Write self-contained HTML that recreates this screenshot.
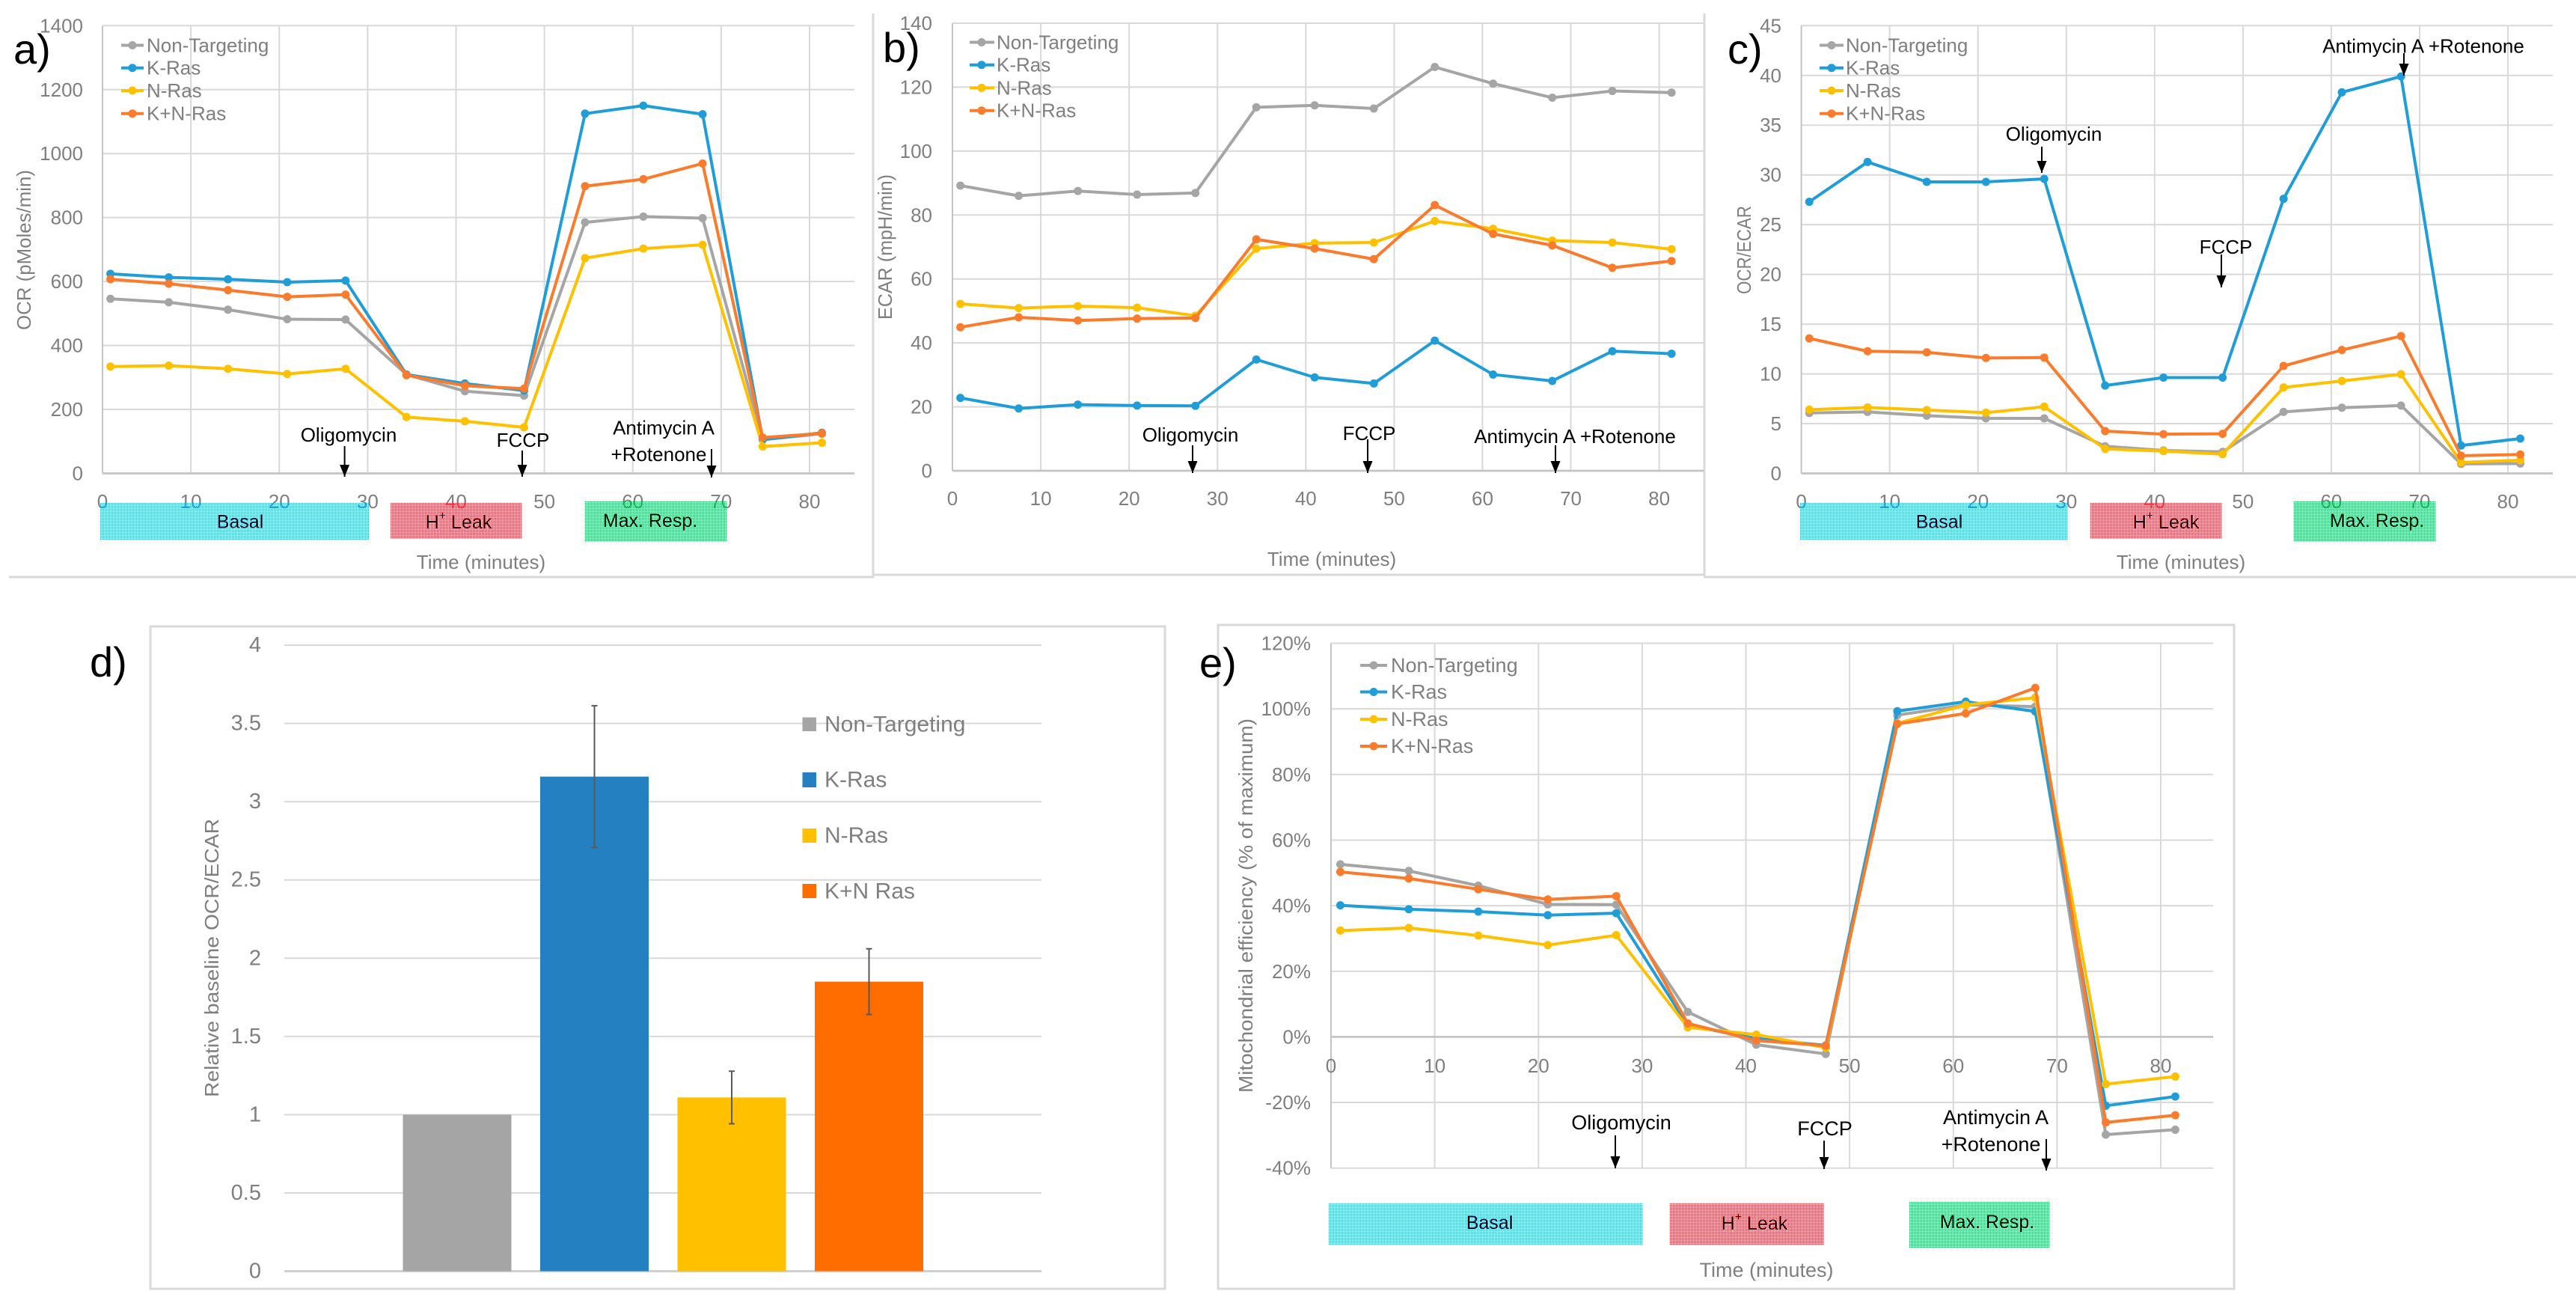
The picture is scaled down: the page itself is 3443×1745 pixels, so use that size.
<!DOCTYPE html>
<html lang="en">
<head>
<meta charset="utf-8">
<title>Mitochondrial respiration charts</title>
<style>
html,body{margin:0;padding:0;background:#fff;}
svg{display:block;}
text{font-family:"Liberation Sans",sans-serif;}
.tick{fill:#7f7f7f;font-size:26px;}
.leg{fill:#7f7f7f;font-size:26px;dominant-baseline:central;}
.title{fill:#7f7f7f;font-size:26px;text-anchor:middle;dominant-baseline:central;}
.note{fill:#000;font-size:26px;text-anchor:middle;dominant-baseline:central;}
.box-label{fill:#000;font-size:25px;text-anchor:middle;dominant-baseline:central;}
.panel{fill:#000;font-size:56px;}
.frame{stroke:#d9d9d9;stroke-width:3;fill:none;}
.arrow{stroke:#000;stroke-width:2;fill:none;}
</style>
</head>
<body>
<svg id="figure" xmlns="http://www.w3.org/2000/svg" width="3443" height="1745" viewBox="0 0 3443 1745">
<defs>
<pattern id="dots-blue" width="2" height="2" patternUnits="userSpaceOnUse"><rect width="1.2" height="1.2" fill="#1fa0dc"/></pattern>
<pattern id="dots-red" width="2" height="2" patternUnits="userSpaceOnUse"><rect width="1.2" height="1.2" fill="#e8202c"/></pattern>
<pattern id="dots-green" width="2" height="2" patternUnits="userSpaceOnUse"><rect width="1.2" height="1.2" fill="#08a84c"/></pattern>
<marker id="arrowhead" markerUnits="userSpaceOnUse" markerWidth="16" markerHeight="13" refX="16" refY="6.5" orient="auto" viewBox="0 0 16 13"><path d="M0 0 L16 6.5 L0 13 Z" fill="#000"/></marker>
</defs>

<!-- frames -->
<g>
<path class="frame" d="M12 771 H1167 V18"/>
<path class="frame" d="M1167 768 H2278 V18"/>
<path class="frame" d="M2277 771 H3443"/>
<path class="frame" d="M201 837 H1557 V1722 H201 Z"/>
<path class="frame" d="M1628 835 H2986 V1722 H1628 Z"/>
</g>

<!-- Panel A -->
<g id="chart-a"></g>
<g>
<text class="panel" x="18" y="85">a)</text>
<text class="title" transform="translate(32 334) rotate(-90)" textLength="214" lengthAdjust="spacingAndGlyphs">OCR (pMoles/min)</text>
<text class="title" x="643" y="751">Time (minutes)</text>
<g>
<path d="M162 60.5H192" stroke="#a5a5a5" stroke-width="4"/><circle cx="177" cy="60.5" r="5.5" fill="#a5a5a5"/><text class="leg" x="196" y="60.5">Non-Targeting</text>
<path d="M162 90.7H192" stroke="#1f9dd9" stroke-width="4"/><circle cx="177" cy="90.7" r="5.5" fill="#1f9dd9"/><text class="leg" x="196" y="90.7">K-Ras</text>
<path d="M162 121H192" stroke="#ffc000" stroke-width="4"/><circle cx="177" cy="121" r="5.5" fill="#ffc000"/><text class="leg" x="196" y="121">N-Ras</text>
<path d="M162 151.7H192" stroke="#fb7b2c" stroke-width="4"/><circle cx="177" cy="151.7" r="5.5" fill="#fb7b2c"/><text class="leg" x="196" y="151.7">K+N-Ras</text>
</g>
<text class="note" x="466" y="581">Oligomycin</text>
<path class="arrow" d="M460.6 596V637" marker-end="url(#arrowhead)"/>
<text class="note" x="699" y="588">FCCP</text>
<path class="arrow" d="M698 602V637" marker-end="url(#arrowhead)"/>
<text class="note" x="887" y="571.5">Antimycin A</text>
<text class="note" x="880.5" y="607">+Rotenone</text>
<path class="arrow" d="M951 600V638" marker-end="url(#arrowhead)"/>
<rect x="134" y="672" width="359" height="49" fill="url(#dots-blue)"/>
<rect x="522" y="672" width="175" height="48" fill="url(#dots-red)"/>
<rect x="781" y="669" width="190" height="54" fill="url(#dots-green)"/>
<text class="box-label" x="321" y="697.5">Basal</text>
<text class="box-label" x="613" y="698">H<tspan dy="-9" font-size="16">+</tspan><tspan dy="9"> Leak</tspan></text>
<text class="box-label" x="869" y="696">Max. Resp.</text>
</g>

<!-- Panel B -->
<g id="chart-b"></g>
<g>
<text class="panel" x="1180" y="83">b)</text>
<text class="title" transform="translate(1183 330) rotate(-90)" textLength="194" lengthAdjust="spacingAndGlyphs">ECAR (mpH/min)</text>
<text class="title" x="1780" y="747">Time (minutes)</text>
<g>
<path d="M1296 56.5H1329" stroke="#a5a5a5" stroke-width="4"/><circle cx="1312" cy="56.5" r="5.5" fill="#a5a5a5"/><text class="leg" x="1332" y="56.5">Non-Targeting</text>
<path d="M1296 86.7H1329" stroke="#1f9dd9" stroke-width="4"/><circle cx="1312" cy="86.7" r="5.5" fill="#1f9dd9"/><text class="leg" x="1332" y="86.7">K-Ras</text>
<path d="M1296 117.4H1329" stroke="#ffc000" stroke-width="4"/><circle cx="1312" cy="117.4" r="5.5" fill="#ffc000"/><text class="leg" x="1332" y="117.4">N-Ras</text>
<path d="M1296 147.7H1329" stroke="#fb7b2c" stroke-width="4"/><circle cx="1312" cy="147.7" r="5.5" fill="#fb7b2c"/><text class="leg" x="1332" y="147.7">K+N-Ras</text>
</g>
<text class="note" x="1591" y="581">Oligomycin</text>
<path class="arrow" d="M1594 595V632" marker-end="url(#arrowhead)"/>
<text class="note" x="1830" y="579">FCCP</text>
<path class="arrow" d="M1828 587V632" marker-end="url(#arrowhead)"/>
<text class="note" x="2105" y="583">Antimycin A +Rotenone</text>
<path class="arrow" d="M2079 595V632" marker-end="url(#arrowhead)"/>
</g>

<!-- Panel C -->
<g id="chart-c"></g>
<g>
<text class="panel" x="2309" y="85">c)</text>
<text class="title" transform="translate(2331 334) rotate(-90)" textLength="118" lengthAdjust="spacingAndGlyphs">OCR/ECAR</text>
<text class="title" x="2915" y="751">Time (minutes)</text>
<g>
<path d="M2432 60.5H2464" stroke="#a5a5a5" stroke-width="4"/><circle cx="2448" cy="60.5" r="5.5" fill="#a5a5a5"/><text class="leg" x="2467" y="60.5">Non-Targeting</text>
<path d="M2432 90.7H2464" stroke="#1f9dd9" stroke-width="4"/><circle cx="2448" cy="90.7" r="5.5" fill="#1f9dd9"/><text class="leg" x="2467" y="90.7">K-Ras</text>
<path d="M2432 121H2464" stroke="#ffc000" stroke-width="4"/><circle cx="2448" cy="121" r="5.5" fill="#ffc000"/><text class="leg" x="2467" y="121">N-Ras</text>
<path d="M2432 151.7H2464" stroke="#fb7b2c" stroke-width="4"/><circle cx="2448" cy="151.7" r="5.5" fill="#fb7b2c"/><text class="leg" x="2467" y="151.7">K+N-Ras</text>
</g>
<text class="note" x="2745" y="179">Oligomycin</text>
<path class="arrow" d="M2729 196V231" marker-end="url(#arrowhead)"/>
<text class="note" x="2975" y="330">FCCP</text>
<path class="arrow" d="M2969 340V384" marker-end="url(#arrowhead)"/>
<text class="note" x="3239" y="61.5">Antimycin A +Rotenone</text>
<path class="arrow" d="M3213 71V101" marker-end="url(#arrowhead)"/>
<rect x="2406" y="672" width="358" height="49" fill="url(#dots-blue)"/>
<rect x="2793" y="672" width="176" height="48" fill="url(#dots-red)"/>
<rect x="3065" y="669" width="190" height="54" fill="url(#dots-green)"/>
<text class="box-label" x="2592" y="697.5">Basal</text>
<text class="box-label" x="2895" y="698">H<tspan dy="-9" font-size="16">+</tspan><tspan dy="9"> Leak</tspan></text>
<text class="box-label" x="3177" y="696">Max. Resp.</text>
</g>

<!-- Panel D -->
<g id="chart-d"></g>
<g>
<text class="panel" x="120" y="904">d)</text>
<text class="title" transform="translate(283 1280) rotate(-90)" textLength="372" lengthAdjust="spacingAndGlyphs">Relative baseline OCR/ECAR</text>
<g>
<rect x="1072.5" y="958.5" width="18.5" height="18.5" fill="#a5a5a5"/><text class="leg" style="font-size:30px" x="1102" y="968">Non-Targeting</text>
<rect x="1072.5" y="1032" width="18.5" height="20" fill="#2480c0"/><text class="leg" style="font-size:30px" x="1102" y="1042">K-Ras</text>
<rect x="1072.5" y="1107" width="18.5" height="19" fill="#ffc000"/><text class="leg" style="font-size:30px" x="1102" y="1116.5">N-Ras</text>
<rect x="1072.5" y="1181" width="18.5" height="19" fill="#ff6d00"/><text class="leg" style="font-size:30px" x="1102" y="1191">K+N Ras</text>
</g>
</g>

<!-- Panel E -->
<g id="chart-e"></g>
<g>
<text class="panel" x="1603" y="905">e)</text>
<text class="title" transform="translate(1665 1210) rotate(-90)" textLength="500" lengthAdjust="spacingAndGlyphs">Mitochondrial efficiency  (% of maximum)</text>
<text class="title" style="font-size:27px" x="2361" y="1697">Time (minutes)</text>
<g>
<path d="M1818 889H1854" stroke="#a5a5a5" stroke-width="4"/><circle cx="1836" cy="889" r="5.5" fill="#a5a5a5"/><text class="leg" style="font-size:27px" x="1859" y="889">Non-Targeting</text>
<path d="M1818 924.5H1854" stroke="#1f9dd9" stroke-width="4"/><circle cx="1836" cy="924.5" r="5.5" fill="#1f9dd9"/><text class="leg" style="font-size:27px" x="1859" y="924.5">K-Ras</text>
<path d="M1818 961H1854" stroke="#ffc000" stroke-width="4"/><circle cx="1836" cy="961" r="5.5" fill="#ffc000"/><text class="leg" style="font-size:27px" x="1859" y="961">N-Ras</text>
<path d="M1818 997H1854" stroke="#fb7b2c" stroke-width="4"/><circle cx="1836" cy="997" r="5.5" fill="#fb7b2c"/><text class="leg" style="font-size:27px" x="1859" y="997">K+N-Ras</text>
</g>
<text class="note" style="font-size:27px" x="2167" y="1500">Oligomycin</text>
<path class="arrow" d="M2159 1517V1561" marker-end="url(#arrowhead)"/>
<text class="note" style="font-size:27px" x="2439" y="1508">FCCP</text>
<path class="arrow" d="M2438 1524V1562" marker-end="url(#arrowhead)"/>
<text class="note" style="font-size:27px" x="2667.5" y="1493">Antimycin A</text>
<text class="note" style="font-size:27px" x="2661" y="1529">+Rotenone</text>
<path class="arrow" d="M2735 1522V1564" marker-end="url(#arrowhead)"/>
<rect x="1776" y="1607" width="419" height="56" fill="url(#dots-blue)"/>
<rect x="2231" y="1607" width="207" height="56" fill="url(#dots-red)"/>
<rect x="2552" y="1606" width="188" height="61" fill="url(#dots-green)"/>
<text class="box-label" x="1991" y="1634">Basal</text>
<text class="box-label" x="2345" y="1635">H<tspan dy="-9" font-size="16">+</tspan><tspan dy="9"> Leak</tspan></text>
<text class="box-label" x="2656" y="1633">Max. Resp.</text>
</g>
</svg>

<script>
// Shared data
const timePoints = [0.9, 7.5, 14.2, 20.9, 27.5, 34.4, 41, 47.7, 54.6, 61.2, 67.9, 74.7, 81.4];
const xTicks = [0, 10, 20, 30, 40, 50, 60, 70, 80];

// Panel a: OCR
const ocrNonTargeting = [546, 535, 512, 482, 481, 309, 257, 243, 785, 803, 798, 105, 124];
const ocrKRas = [624, 613, 607, 598, 603, 309, 281, 259, 1125, 1150, 1123, 106, 127];
const ocrNRas = [334, 337, 327, 311, 327, 176, 163, 144, 673, 703, 715, 84, 96];
const ocrKNRas = [607, 593, 573, 552, 559, 307, 274, 265, 898, 920, 969, 112, 125];
const ocrTicks = [0, 200, 400, 600, 800, 1000, 1200, 1400];

// Panel b: ECAR
const ecarNonTargeting = [89.2, 86, 87.5, 86.4, 86.9, 113.7, 114.3, 113.3, 126.3, 121.1, 116.7, 118.8, 118.3];
const ecarKRas = [22.8, 19.5, 20.7, 20.4, 20.3, 34.8, 29.2, 27.3, 40.7, 30.1, 28.1, 37.4, 36.6];
const ecarNRas = [52.2, 50.9, 51.5, 51, 48.5, 69.5, 71.2, 71.4, 78.1, 75.7, 72, 71.4, 69.3];
const ecarKNRas = [44.9, 48, 47, 47.6, 47.8, 72.4, 69.5, 66.2, 83.1, 74.1, 70.5, 63.5, 65.6];
const ecarTicks = [0, 20, 40, 60, 80, 100, 120, 140];

// Panel c: OCR/ECAR
const ratioNonTargeting = [6.07, 6.18, 5.8, 5.53, 5.53, 2.73, 2.3, 2.16, 6.18, 6.6, 6.82, 0.95, 0.99];
const ratioKRas = [27.3, 31.3, 29.3, 29.3, 29.6, 8.83, 9.63, 9.63, 27.6, 38.3, 39.9, 2.8, 3.5];
const ratioNRas = [6.4, 6.63, 6.37, 6.1, 6.7, 2.46, 2.24, 1.93, 8.64, 9.29, 9.97, 1.1, 1.33];
const ratioKNRas = [13.57, 12.28, 12.17, 11.6, 11.64, 4.25, 3.94, 3.98, 10.8, 12.4, 13.8, 1.78, 1.9];
const ratioTicks = [0, 5, 10, 15, 20, 25, 30, 35, 40, 45];

// Panel d: relative baseline bars
const barCategories = ['Non-Targeting', 'K-Ras', 'N-Ras', 'K+N Ras'];
const barValues = [1, 3.16, 1.11, 1.85];
const barErrors = [0, 0.453, 0.168, 0.21];
const barTicks = [0, 0.5, 1, 1.5, 2, 2.5, 3, 3.5, 4];

// Panel e: mitochondrial efficiency (%)
const effNonTargeting = [52.6, 50.6, 46.1, 40.4, 40.3, 7.6, -2.4, -5.2, 98.1, 101.2, 100.7, -29.8, -28.3];
const effKRas = [40.1, 38.9, 38.2, 37.1, 37.7, 3.5, -0.5, -2.6, 99.3, 102.2, 99.2, -21, -18.2];
const effNRas = [32.4, 33.2, 30.9, 28, 31, 2.9, 0.7, -3.3, 95.6, 101.2, 103.4, -14.4, -12.1];
const effKNRas = [50.3, 48.3, 45, 41.9, 42.9, 4.1, -1.1, -2.7, 95.4, 98.6, 106.4, -26.1, -23.9];
const effTicks = [-40, -20, 0, 20, 40, 60, 80, 100, 120];

const seriesNames = ['non-targeting', 'k-ras', 'n-ras', 'k-n-ras'];
const lineColors = ['#a5a5a5', '#1f9dd9', '#ffc000', '#fb7b2c'];
const barColors = ['#a5a5a5', '#2480c0', '#ffc000', '#ff6d00'];

const SVG_NS = 'http://www.w3.org/2000/svg';
function make(tag, parent) {
  const el = document.createElementNS(SVG_NS, tag);
  parent.appendChild(el);
  return el;
}
function linearScale(d0, d1, r0, r1) {
  return v => r0 + (v - d0) * (r1 - r0) / (d1 - d0);
}
function setLine(el, x1, y1, x2, y2, color, width) {
  el.setAttribute('x1', x1);
  el.setAttribute('y1', y1);
  el.setAttribute('x2', x2);
  el.setAttribute('y2', y2);
  el.setAttribute('stroke', color);
  el.setAttribute('stroke-width', width);
}

function drawLineChart(id, key, box, yTicks, seriesList, fmt) {
  const root = document.getElementById(id);
  const x = linearScale(0, 80, box.left, box.x80);
  const y = linearScale(yTicks[0], yTicks[yTicks.length - 1], box.bottom, box.top);
  const axisY = y(0);
  yTicks.forEach(t => {
    const grid = make('line', root);
    
    
    setLine(grid, box.left, y(t), box.right, y(t), t === 0 ? '#c4c4c4' : '#d9d9d9', t === 0 ? 2.5 : 2);
    const label = make('text', root);
    
    
    label.setAttribute('class', 'tick');
    label.setAttribute('x', box.yLabelX);
    label.setAttribute('y', y(t));
    label.setAttribute('text-anchor', 'end');
    label.setAttribute('dominant-baseline', 'central');
    label.textContent = fmt(t);
  });
  xTicks.forEach(t => {
    const grid = make('line', root);
    
    
    setLine(grid, x(t), box.top, x(t), box.bottom, t === 0 ? '#c4c4c4' : '#d9d9d9', 2);
    const label = make('text', root);
    
    
    label.setAttribute('class', 'tick');
    label.setAttribute('x', x(t));
    label.setAttribute('y', box.xLabelY);
    label.setAttribute('text-anchor', 'middle');
    label.setAttribute('dominant-baseline', 'central');
    label.textContent = t;
  });
  const axis = make('line', root);
  
  
  setLine(axis, box.left, axisY, box.right, axisY, '#c4c4c4', 2.5);

  seriesList.forEach((values, s) => {
    const line = make('polyline', root);
    
    
    line.setAttribute('fill', 'none');
    line.setAttribute('stroke', lineColors[s]);
    line.setAttribute('stroke-width', '4');
    line.setAttribute('stroke-linejoin', 'round');
    line.setAttribute('points', values.map((v, i) => x(timePoints[i]) + ',' + y(v)).join(' '));
    values.forEach((v, i) => {
      const dot = make('circle', root);
      
      
      dot.setAttribute('cx', x(timePoints[i]));
      dot.setAttribute('cy', y(v));
      dot.setAttribute('r', '5.5');
      dot.setAttribute('fill', lineColors[s]);
    });
  });
}

function drawBarChart() {
  const root = document.getElementById('chart-d');
  const left = 380, right = 1392, top = 862, bottom = 1698.5, firstCenter = 611, step = 183.5, barWidth = 145;
  const y = linearScale(0, 4, bottom, top);
  const x = i => firstCenter + i * step;
  barTicks.forEach(t => {
    const grid = make('line', root);
    
    
    setLine(grid, left, y(t), right, y(t), t === 0 ? '#cfcfcf' : '#d9d9d9', t === 0 ? 3 : 2);
    const label = make('text', root);
    
    
    label.setAttribute('class', 'tick');
    label.setAttribute('style', 'font-size:29px');
    label.setAttribute('x', 349);
    label.setAttribute('y', y(t));
    label.setAttribute('text-anchor', 'end');
    label.setAttribute('dominant-baseline', 'central');
    label.textContent = t;
  });
  barValues.forEach((v, i) => {
    const bar = make('rect', root);
    
    
    bar.setAttribute('x', x(i) - barWidth / 2);
    bar.setAttribute('y', y(v));
    bar.setAttribute('width', barWidth);
    bar.setAttribute('height', y(0) - y(v));
    bar.setAttribute('fill', barColors[i]);
    const err = barErrors[i];
    if (err > 0) {
      const stem = make('line', root);
      
      
      setLine(stem, x(i), y(v + err), x(i), y(v - err), '#595959', 2);
      [v + err, v - err].forEach(c => {
        const cap = make('line', root);
        
        
        setLine(cap, x(i) - 4, y(c), x(i) + 4, y(c), '#595959', 2);
      });
    }
  });
}

drawLineChart('chart-a', 'ocr',
  {left: 137, x80: 1082, right: 1142, top: 34.3, bottom: 632.5, yLabelX: 111, xLabelY: 670},
  ocrTicks, [ocrNonTargeting, ocrKRas, ocrNRas, ocrKNRas], t => t);
drawLineChart('chart-b', 'ecar',
  {left: 1273, x80: 2217.6, right: 2277, top: 31, bottom: 629, yLabelX: 1246, xLabelY: 666},
  ecarTicks, [ecarNonTargeting, ecarKRas, ecarNRas, ecarKNRas], t => t);
drawLineChart('chart-c', 'ratio',
  {left: 2407.6, x80: 3352, right: 3412, top: 34.3, bottom: 632.5, yLabelX: 2381, xLabelY: 670},
  ratioTicks, [ratioNonTargeting, ratioKRas, ratioNRas, ratioKNRas], t => t);
drawBarChart();
drawLineChart('chart-e', 'efficiency',
  {left: 1779, x80: 2888, right: 2958, top: 859.5, bottom: 1560.7, yLabelX: 1752, xLabelY: 1424},
  effTicks, [effNonTargeting, effKRas, effNRas, effKNRas], t => t + '%');
</script>
</body>
</html>
